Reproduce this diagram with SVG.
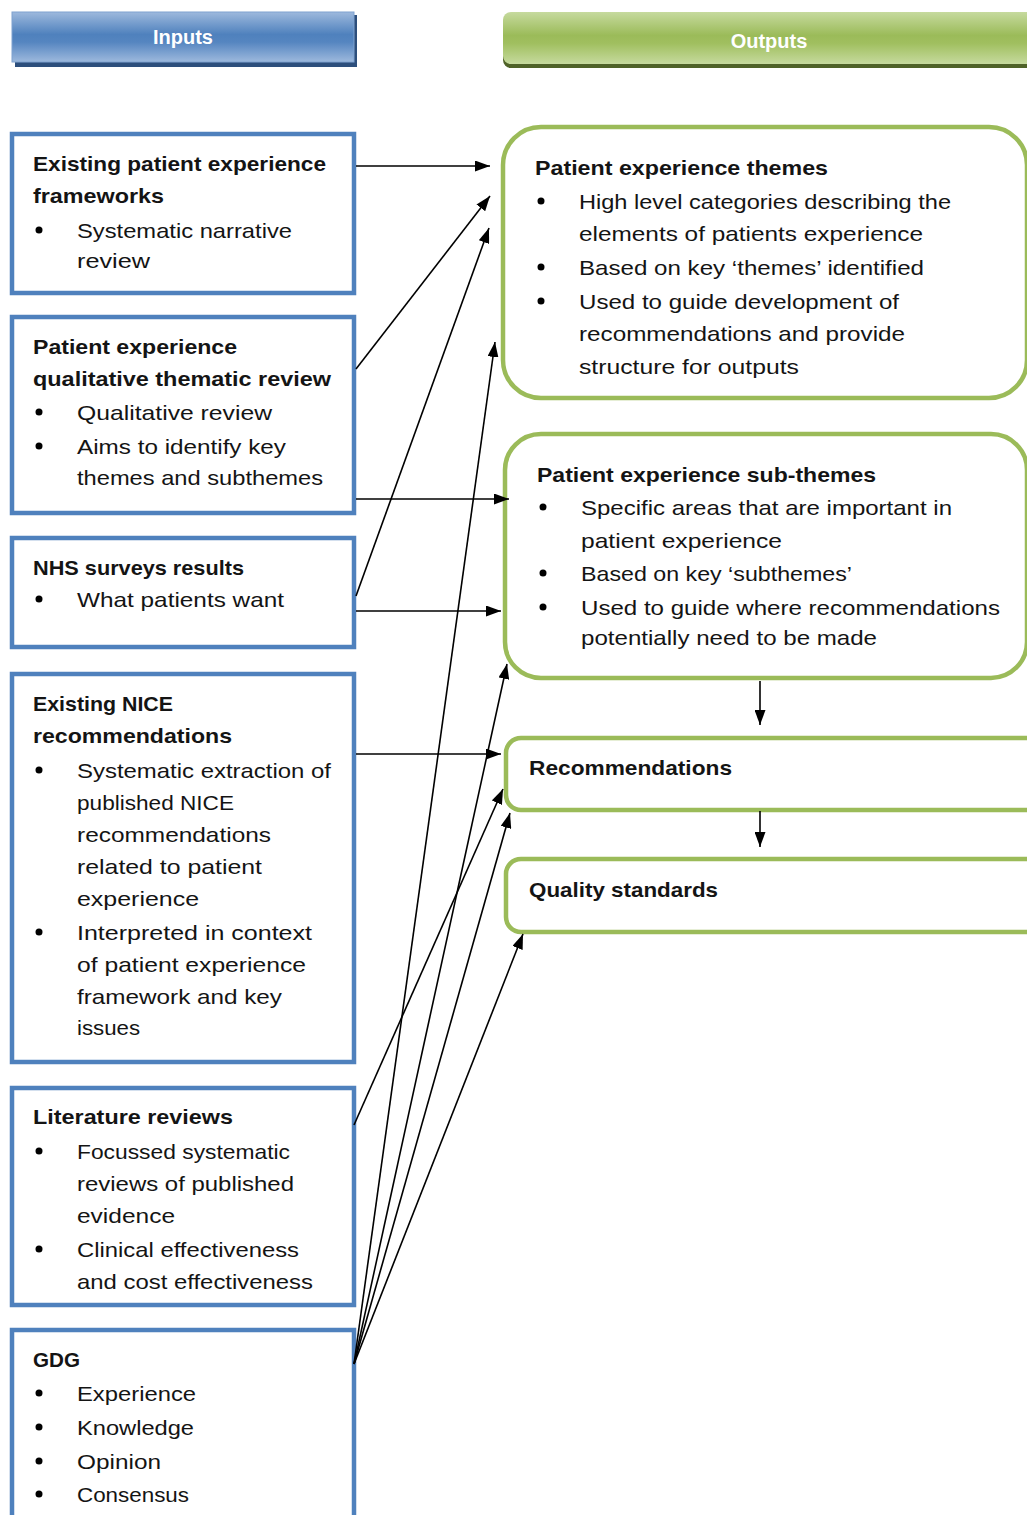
<svg xmlns="http://www.w3.org/2000/svg" width="1027" height="1515" viewBox="0 0 1027 1515">
<style>
  .t { font-family: "Liberation Sans", Arial, sans-serif; font-size: 21px; fill: #141414; }
  .b { font-weight: bold; }
  .in { fill: #ffffff; stroke: #4F81BD; stroke-width: 4.5; }
  .out { fill: #ffffff; stroke: #9BBB59; stroke-width: 4.5; }
  .hd { font-family: "Liberation Sans", Arial, sans-serif; font-size: 20px; font-weight: bold; fill: #ffffff; text-anchor: middle; }
  .c { stroke: #000; stroke-width: 1.6; fill: none; marker-end: url(#ah); }
</style>
<defs>
  <marker id="ah" markerUnits="userSpaceOnUse" markerWidth="15" markerHeight="11" viewBox="0 0 15 11" refX="15" refY="5.5" orient="auto">
    <path d="M0,0 L15,5.5 L0,11 z" fill="#000"/>
  </marker>
  <linearGradient id="gBlue" x1="0" y1="0" x2="0" y2="1">
    <stop offset="0" stop-color="#9DB9DD"/>
    <stop offset="0.45" stop-color="#4F81BD"/>
    <stop offset="0.6" stop-color="#5585C0"/>
    <stop offset="1" stop-color="#9DB9DD"/>
  </linearGradient>
  <linearGradient id="gGreen" x1="0" y1="0" x2="0" y2="1">
    <stop offset="0" stop-color="#C6DA9E"/>
    <stop offset="0.45" stop-color="#9BBB59"/>
    <stop offset="0.6" stop-color="#A0BF5F"/>
    <stop offset="1" stop-color="#C6DA9E"/>
  </linearGradient>
</defs>
<rect width="1027" height="1515" fill="#ffffff"/>

<g id="inputs-header">
  <rect x="15" y="15" width="342" height="52" fill="#2D4F7C"/>
  <rect x="12" y="12" width="342" height="50" fill="url(#gBlue)" stroke="#7FA2CF" stroke-width="1"/>
  <text class="hd" x="183" y="44">Inputs</text>
</g>
<g id="outputs-header">
  <rect x="503" y="16" width="540" height="52" rx="8" fill="#4F6228"/>
  <rect x="503" y="12" width="540" height="52" rx="8" fill="url(#gGreen)"/>
  <text class="hd" x="769" y="48">Outputs</text>
</g>

<g id="in-frameworks">
  <rect class="in" x="12" y="134" width="342" height="159"/>
  <text class="t b" x="33" y="171" textLength="293" lengthAdjust="spacingAndGlyphs">Existing patient experience</text>
  <text class="t b" x="33" y="203" textLength="131" lengthAdjust="spacingAndGlyphs">frameworks</text>
  <circle cx="39" cy="230" r="3.5" fill="#000"/>
  <text class="t" x="77" y="238" textLength="215" lengthAdjust="spacingAndGlyphs">Systematic narrative</text>
  <text class="t" x="77" y="268" textLength="73" lengthAdjust="spacingAndGlyphs">review</text>
</g>

<g id="in-qualitative">
  <rect class="in" x="12" y="317" width="342" height="196"/>
  <text class="t b" x="33" y="354" textLength="204" lengthAdjust="spacingAndGlyphs">Patient experience</text>
  <text class="t b" x="33" y="386" textLength="298" lengthAdjust="spacingAndGlyphs">qualitative thematic review</text>
  <circle cx="39" cy="412" r="3.5" fill="#000"/>
  <text class="t" x="77" y="420" textLength="195" lengthAdjust="spacingAndGlyphs">Qualitative review</text>
  <circle cx="39" cy="446" r="3.5" fill="#000"/>
  <text class="t" x="77" y="454" textLength="209" lengthAdjust="spacingAndGlyphs">Aims to identify key</text>
  <text class="t" x="77" y="485" textLength="246" lengthAdjust="spacingAndGlyphs">themes and subthemes</text>
</g>

<g id="in-nhs">
  <rect class="in" x="12" y="538" width="342" height="109"/>
  <text class="t b" x="33" y="575" textLength="211" lengthAdjust="spacingAndGlyphs">NHS surveys results</text>
  <circle cx="39" cy="599" r="3.5" fill="#000"/>
  <text class="t" x="77" y="607" textLength="207" lengthAdjust="spacingAndGlyphs">What patients want</text>
</g>

<g id="in-nice">
  <rect class="in" x="12" y="674" width="342" height="388"/>
  <text class="t b" x="33" y="711" textLength="140" lengthAdjust="spacingAndGlyphs">Existing NICE</text>
  <text class="t b" x="33" y="743" textLength="199" lengthAdjust="spacingAndGlyphs">recommendations</text>
  <circle cx="39" cy="770" r="3.5" fill="#000"/>
  <text class="t" x="77" y="778" textLength="254" lengthAdjust="spacingAndGlyphs">Systematic extraction of</text>
  <text class="t" x="77" y="810" textLength="157" lengthAdjust="spacingAndGlyphs">published NICE</text>
  <text class="t" x="77" y="842" textLength="194" lengthAdjust="spacingAndGlyphs">recommendations</text>
  <text class="t" x="77" y="874" textLength="185" lengthAdjust="spacingAndGlyphs">related to patient</text>
  <text class="t" x="77" y="906" textLength="122" lengthAdjust="spacingAndGlyphs">experience</text>
  <circle cx="39" cy="932" r="3.5" fill="#000"/>
  <text class="t" x="77" y="940" textLength="235" lengthAdjust="spacingAndGlyphs">Interpreted in context</text>
  <text class="t" x="77" y="972" textLength="229" lengthAdjust="spacingAndGlyphs">of patient experience</text>
  <text class="t" x="77" y="1004" textLength="205" lengthAdjust="spacingAndGlyphs">framework and key</text>
  <text class="t" x="77" y="1035" textLength="63" lengthAdjust="spacingAndGlyphs">issues</text>
</g>

<g id="in-literature">
  <rect class="in" x="12" y="1088" width="342" height="217"/>
  <text class="t b" x="33" y="1124" textLength="200" lengthAdjust="spacingAndGlyphs">Literature reviews</text>
  <circle cx="39" cy="1151" r="3.5" fill="#000"/>
  <text class="t" x="77" y="1159" textLength="213" lengthAdjust="spacingAndGlyphs">Focussed systematic</text>
  <text class="t" x="77" y="1191" textLength="217" lengthAdjust="spacingAndGlyphs">reviews of published</text>
  <text class="t" x="77" y="1223" textLength="98" lengthAdjust="spacingAndGlyphs">evidence</text>
  <circle cx="39" cy="1249" r="3.5" fill="#000"/>
  <text class="t" x="77" y="1257" textLength="222" lengthAdjust="spacingAndGlyphs">Clinical effectiveness</text>
  <text class="t" x="77" y="1289" textLength="236" lengthAdjust="spacingAndGlyphs">and cost effectiveness</text>
</g>

<g id="in-gdg">
  <rect class="in" x="12" y="1330" width="342" height="200"/>
  <text class="t b" x="33" y="1367" textLength="47" lengthAdjust="spacingAndGlyphs">GDG</text>
  <circle cx="39" cy="1393" r="3.5" fill="#000"/>
  <text class="t" x="77" y="1401" textLength="119" lengthAdjust="spacingAndGlyphs">Experience</text>
  <circle cx="39" cy="1427" r="3.5" fill="#000"/>
  <text class="t" x="77" y="1435" textLength="117" lengthAdjust="spacingAndGlyphs">Knowledge</text>
  <circle cx="39" cy="1461" r="3.5" fill="#000"/>
  <text class="t" x="77" y="1469" textLength="84" lengthAdjust="spacingAndGlyphs">Opinion</text>
  <circle cx="39" cy="1494" r="3.5" fill="#000"/>
  <text class="t" x="77" y="1502" textLength="112" lengthAdjust="spacingAndGlyphs">Consensus</text>
</g>

<g id="out-themes">
  <rect class="out" x="503" y="127" width="524" height="271" rx="38"/>
  <text class="t b" x="535" y="175" textLength="293" lengthAdjust="spacingAndGlyphs">Patient experience themes</text>
  <circle cx="541" cy="201" r="3.5" fill="#000"/>
  <text class="t" x="579" y="209" textLength="372" lengthAdjust="spacingAndGlyphs">High level categories describing the</text>
  <text class="t" x="579" y="241" textLength="344" lengthAdjust="spacingAndGlyphs">elements of patients experience</text>
  <circle cx="541" cy="267" r="3.5" fill="#000"/>
  <text class="t" x="579" y="275" textLength="345" lengthAdjust="spacingAndGlyphs">Based on key ‘themes’ identified</text>
  <circle cx="541" cy="301" r="3.5" fill="#000"/>
  <text class="t" x="579" y="309" textLength="320" lengthAdjust="spacingAndGlyphs">Used to guide development of</text>
  <text class="t" x="579" y="341" textLength="326" lengthAdjust="spacingAndGlyphs">recommendations and provide</text>
  <text class="t" x="579" y="374" textLength="220" lengthAdjust="spacingAndGlyphs">structure for outputs</text>
</g>

<g id="out-subthemes">
  <rect class="out" x="505" y="434" width="522" height="244" rx="36"/>
  <text class="t b" x="537" y="482" textLength="339" lengthAdjust="spacingAndGlyphs">Patient experience sub-themes</text>
  <circle cx="543" cy="507" r="3.5" fill="#000"/>
  <text class="t" x="581" y="515" textLength="371" lengthAdjust="spacingAndGlyphs">Specific areas that are important in</text>
  <text class="t" x="581" y="548" textLength="201" lengthAdjust="spacingAndGlyphs">patient experience</text>
  <circle cx="543" cy="573" r="3.5" fill="#000"/>
  <text class="t" x="581" y="581" textLength="271" lengthAdjust="spacingAndGlyphs">Based on key ‘subthemes’</text>
  <circle cx="543" cy="607" r="3.5" fill="#000"/>
  <text class="t" x="581" y="615" textLength="419" lengthAdjust="spacingAndGlyphs">Used to guide where recommendations</text>
  <text class="t" x="581" y="645" textLength="296" lengthAdjust="spacingAndGlyphs">potentially need to be made</text>
</g>

<g id="out-recommendations">
  <rect class="out" x="506" y="738" width="540" height="72" rx="15"/>
  <text class="t b" x="529" y="775" textLength="203" lengthAdjust="spacingAndGlyphs">Recommendations</text>
</g>

<g id="out-quality">
  <rect class="out" x="506" y="859" width="540" height="73" rx="15"/>
  <text class="t b" x="529" y="897" textLength="189" lengthAdjust="spacingAndGlyphs">Quality standards</text>
</g>

<g id="connectors">
  <line class="c" x1="356" y1="166" x2="490" y2="166"/>
  <line class="c" x1="356" y1="369" x2="490" y2="196"/>
  <line class="c" x1="356" y1="596" x2="489" y2="228"/>
  <line class="c" x1="354" y1="1364" x2="495" y2="342"/>
  <line class="c" x1="356" y1="499" x2="509" y2="499"/>
  <line class="c" x1="356" y1="611" x2="501" y2="611"/>
  <line class="c" x1="356" y1="754" x2="501" y2="754"/>
  <line class="c" x1="354" y1="1364" x2="507" y2="664"/>
  <line class="c" x1="354" y1="1125" x2="503" y2="789"/>
  <line class="c" x1="354" y1="1364" x2="510" y2="813"/>
  <line class="c" x1="354" y1="1364" x2="523" y2="934"/>
  <line class="c" x1="760" y1="681" x2="760" y2="725"/>
  <line class="c" x1="760" y1="811" x2="760" y2="847"/>
</g>
</svg>
